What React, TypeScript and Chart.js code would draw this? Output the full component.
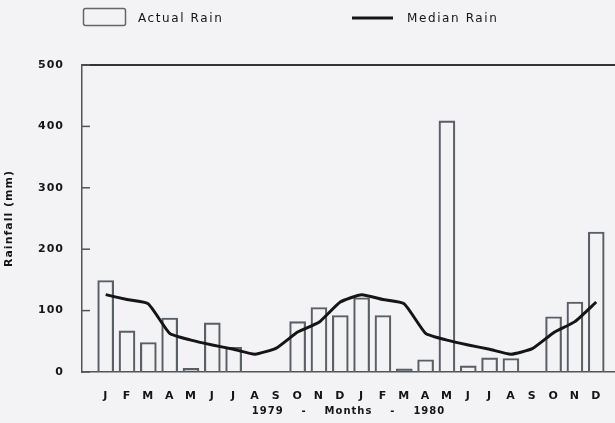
import React, { useEffect, useRef } from "react";
import { Chart, registerables } from "chart.js";

Chart.register(...registerables);

const months = ["J", "F", "M", "A", "M", "J", "J", "A", "S", "O", "N", "D", "J", "F", "M", "A", "M", "J", "J", "A", "S", "O", "N", "D"];
const actualRain = [149, 67, 48, 88, 6, 80, 40, 0, 0, 82, 105, 92, 121, 92, 5, 20, 409, 10, 23, 22, 0, 90, 114, 228];
const medianRain = [126, 118, 111, 63, 52, 44, 37, 29, 39, 65, 81, 114, 126, 118, 111, 63, 52, 44, 37, 29, 38, 64, 82, 114];
const yTicks = [0, 100, 200, 300, 400, 500];
const legendLabels = ["Actual Rain", "Median Rain"];
const xTitle = "1979    -    Months    -    1980";
const yTitle = "Rainfall (mm)";

const X_MIN = -1.11;
const X_MAX = 23.88;
const INK = "#151515";
const BAR_STROKE = "#5a5e66";
const FONT = '"DejaVu Sans", sans-serif';

const decoPlugin = {
  id: "deco",
  beforeDraw(chart: any) {
    chart.ctx.letterSpacing = "1px";
  },
  afterDraw(chart: any) {
    const { ctx, chartArea } = chart;
    const y = chart.scales.y;
    ctx.save();
    ctx.letterSpacing = "0px";
    // inner tick marks on the y axis
    ctx.strokeStyle = "#555";
    ctx.lineWidth = 1.5;
    yTicks.forEach((v) => {
      const py = y.getPixelForValue(v);
      ctx.beginPath();
      ctx.moveTo(chartArea.left, py);
      ctx.lineTo(chartArea.left + 8, py);
      ctx.stroke();
    });
    // legend
    ctx.strokeStyle = "#666";
    ctx.lineWidth = 1.5;
    ctx.beginPath();
    ctx.roundRect(83.5, 8.5, 42, 17, 2);
    ctx.stroke();
    ctx.strokeStyle = INK;
    ctx.lineWidth = 3;
    ctx.beginPath();
    ctx.moveTo(352, 18);
    ctx.lineTo(393, 18);
    ctx.stroke();
    ctx.fillStyle = INK;
    ctx.font = `12px ${FONT}`;
    ctx.textBaseline = "middle";
    ctx.textAlign = "left";
    ctx.letterSpacing = "1.6px";
    ctx.fillText(legendLabels[0], 138, 19);
    ctx.fillText(legendLabels[1], 407, 19);
    ctx.restore();
    ctx.letterSpacing = "0px";
  },
};

export default function App() {
  const ref = useRef<HTMLCanvasElement>(null);

  useEffect(() => {
    document.body.style.margin = "0";
    const canvas = ref.current;
    if (!canvas) return;
    const tickFont = { family: FONT, size: 11, weight: "bold" as const };
    const chart = new Chart(canvas, {
      type: "bar",
      data: {
        datasets: [
          {
            type: "line" as const,
            label: legendLabels[1],
            data: medianRain.map((v, i) => ({ x: i, y: v })),
            borderColor: INK,
            borderWidth: 3,
            pointRadius: 0,
            tension: 0.15,
            order: 0,
          },
          {
            type: "bar" as const,
            label: legendLabels[0],
            data: actualRain.map((v, i) => ({ x: i, y: v })),
            backgroundColor: "rgba(0,0,0,0)",
            borderColor: BAR_STROKE,
            borderWidth: 1.5,
            barThickness: 16,
            order: 1,
          },
        ] as any,
      },
      options: {
        responsive: false,
        animation: false,
        layout: { padding: { top: 65, left: 0, right: 0, bottom: 0 } },
        plugins: { legend: { display: false }, tooltip: { enabled: false } },
        scales: {
          x: {
            type: "linear",
            position: "bottom",
            offset: false,
            min: X_MIN,
            max: X_MAX,
            grid: { display: false, offset: false },
            border: { display: true, color: "#555", width: 1.5 },
            ticks: {
              font: tickFont,
              color: INK,
              padding: 10,
              autoSkip: false,
              maxRotation: 0,
              callback: (v: any) => months[v as number] ?? "",
            },
            afterBuildTicks: (s: any) => {
              s.ticks = months.map((_, i) => ({ value: i }));
            },
            afterFit: (s: any) => {
              s.height = 51;
            },
            title: {
              display: true,
              text: xTitle,
              color: INK,
              font: { family: FONT, size: 10, weight: "bold" },
              padding: { top: 0, bottom: 6 },
            },
          },
          xTop: {
            type: "linear",
            position: "top",
            offset: false,
            min: X_MIN,
            max: X_MAX,
            grid: { display: false },
            ticks: { display: false },
            border: { display: true, color: "#333", width: 2 },
            afterFit: (s: any) => {
              s.height = 0;
            },
          },
          y: {
            min: 0,
            max: 500,
            afterBuildTicks: (s: any) => {
              s.ticks = yTicks.map((v) => ({ value: v }));
            },
            grid: { display: false },
            border: { display: true, color: "#555", width: 1.5 },
            ticks: { font: tickFont, color: INK, padding: 10 },
            afterFit: (s: any) => {
              s.width = 82;
            },
            title: {
              display: true,
              text: yTitle,
              color: INK,
              font: { family: FONT, size: 11, weight: "bold" },
              padding: { top: 3, bottom: 0 },
            },
          },
        },
      } as any,
      plugins: [decoPlugin],
    });
    return () => chart.destroy();
  }, []);

  return (
    <div style={{ width: 615, height: 423, background: "#f3f2f4" }}>
      <canvas ref={ref} width={615} height={423} style={{ display: "block" }} />
    </div>
  );
}
